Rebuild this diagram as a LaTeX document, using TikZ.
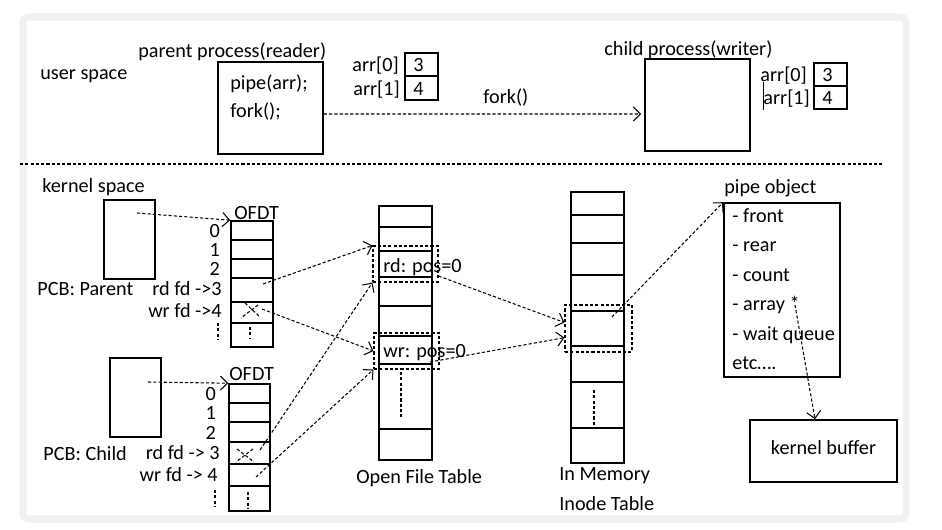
\documentclass[tikz,border=0pt]{standalone}
\usepackage{fontspec}
\setmainfont{Carlito}
\usepackage{tikz}
\usetikzlibrary{positioning,fit,arrows.meta}
\definecolor{frameGray}{RGB}{240,240,240}
\tikzset{
		boxStyle/.style = 	{draw, line width = 0.9pt, inner sep=0pt},
		cellStyle/.style = 	{draw, line width = 0.9pt, inner sep=0pt},
		ringStyle/.style = 	{draw, line width = 0.6pt, inner sep=0pt, dash pattern=on 1.8pt off 1.2pt},
		textStyle/.style = 	{inner sep=0pt, text height=8pt, text depth=0pt, font=\fontsize{11.5}{13}\selectfont},
		dotStyle/.style = 	{line width = 0.6pt, dash pattern=on 1.8pt off 1.2pt},
		linkStyle/.style = 	{dotStyle, -{Straight Barb[length=4pt,width=8pt]}}
}

\begin{document}
\begin{tikzpicture}[x=0.02cm, y=-0.02cm]
  \useasboundingbox (0,0) rectangle (942,530);
  \draw[frameGray, line width=4pt, rounded corners=3pt] (23,17) rectangle (906,519);

  % user space: the two processes
  \node[textStyle, anchor=west] (userLbl) at (40,72) {user space};
  \node[textStyle, anchor=west] (parentLbl) at (138,50) {parent process(reader)};
  \node[boxStyle, fit={(218,62) (323,154)}] (parentBox) {};
  \node[textStyle, anchor=west] (pipeCall) at (230,82) {pipe(arr);};
  \node[textStyle, anchor=west] (forkCall) at (230,110) {fork();};

  \node[textStyle, anchor=west] (childLbl) at (604,48) {child process(writer)};
  \node[boxStyle, fit={(645,59) (750,151)}] (childBox) {};

  % Draw arr cells of both processes
  \foreach \who/\xl/\xr/\yt/\ym/\yb in {P/405/438/53/76/100, C/814/847/63/86/109}
  {
    \node[cellStyle, fit={(\xl,\yt) (\xr,\ym)}] (arr\who0) {};
    \node[cellStyle, fit={(\xl,\ym) (\xr,\yb)}] (arr\who1) {};
    \node[textStyle] (val\who0) at ([xshift=-0.06cm]arr\who0.center) {3};
    \node[textStyle] (val\who1) at ([xshift=-0.06cm]arr\who1.center) {4};
  }
  \node[textStyle, left=0.1cm of arrP0] (arrP0Lbl) {arr[0]};
  \node[textStyle, left=0.08cm of arrP1] (arrP1Lbl) {arr[1]};
  \node[textStyle, left=0.12cm of arrC0] (arrC0Lbl) {arr[0]};
  \node[textStyle, left=0.06cm of arrC1] (arrC1Lbl) {arr[1]};
  \draw[line width=0.4pt] (763,82) -- (763,110);

  \coordinate (forkEnd) at (641,114);
  \draw[linkStyle] ([yshift=-0.12cm]parentBox.east) -- (forkEnd);
  \node[textStyle, anchor=west] (forkLbl) at (483,96) {fork()};

  \draw[dotStyle] (20,164) -- (882,164);

  % kernel space: PCBs and OFDTs
  \node[textStyle, anchor=west] (kernelLbl) at (42,185) {kernel space};
  \node[boxStyle, fit={(104,200) (155,279)}] (pcbP) {};
  \node[boxStyle, fit={(110,358) (161,437)}] (pcbC) {};
  \node[textStyle, anchor=west] (pcbPLbl) at (37,288) {PCB: Parent};
  \node[textStyle, anchor=west] (pcbCLbl) at (43,453) {PCB: Child};

  \foreach \yt/\yb [count=\i from 0] in {221/240, 240/259, 259/278, 278/302, 302/323, 323/347}
    \node[cellStyle, fit={(231,\yt) (273,\yb)}] (ofdtP\i) {};
  \foreach \yt/\yb [count=\i from 0] in {384/403, 403/422, 422/442, 442/464, 464/486, 486/511}
    \node[cellStyle, fit={(229,\yt) (270,\yb)}] (ofdtC\i) {};
  \node[textStyle, anchor=west] (ofdtPLbl) at (234,212) {OFDT};
  \node[textStyle, anchor=west] (ofdtCLbl) at (229,373) {OFDT};

  \foreach \i in {0,1,2}
  {
    \node[textStyle, left=0.2cm of ofdtP\i] (numP\i) {\i};
    \node[textStyle, left=0.24cm of ofdtC\i] (numC\i) {\i};
  }
  \node[textStyle, anchor=east] (rdP) at (222,288) {rd fd ->3};
  \node[textStyle, anchor=east] (wrP) at (222,310) {wr fd ->4};
  \node[textStyle, anchor=east] (rdC) at (220,452) {rd fd -> 3};
  \node[textStyle, anchor=east] (wrC) at (218,474) {wr fd -> 4};

  % dots and crosses in the OFDTs
  \draw[dotStyle] (218,323) -- (218,340) (250,327) -- (250,338);
  \draw[dotStyle] (215,490) -- (215,506) (248,492) -- (248,508);
  \draw[dotStyle] (245,303) -- (260,317) (258,305) -- (241,318);
  \draw[dotStyle] (237,449) -- (254,462) (253,449) -- (236,462);

  % open file table and in memory inode table
  \foreach \yt/\yb [count=\i from 0] in {206/227, 227/251, 251/277, 277/306, 306/336, 336/364, 364/429, 429/460}
    \node[cellStyle, fit={(379,\yt) (432,\yb)}] (oft\i) {};
  \foreach \yt/\yb [count=\i from 0] in {192/215, 215/243, 243/275, 275/311, 311/346, 346/382, 382/428, 428/463}
    \node[cellStyle, fit={(571,\yt) (624,\yb)}] (inode\i) {};
  \draw[dotStyle] (401,372) -- (401,417) (594,390) -- (594,425);

  \node[ringStyle, fit={(373,246) (438,282)}] (rdRing) {};
  \node[ringStyle, fit={(374,333) (439,369)}] (wrRing) {};
  \node[ringStyle, fit={(565,305) (632,352)}] (inodeRing) {};
  \node[textStyle, anchor=west] (rdLbl) at (383,265) {rd: pos=0};
  \node[textStyle, anchor=west] (wrLbl) at (383,350) {wr: pos=0};

  \node[textStyle, anchor=west] (oftLbl) at (356,476) {Open File Table};
  \node[textStyle, anchor=west] (inodeLbl) at (559,473) {In Memory};
  \node[textStyle, anchor=west] (inodeLbl2) at (559,503) {Inode Table};

  % pipe object and kernel buffer
  \node[textStyle, anchor=west] (pipeLbl) at (724,186) {pipe object};
  \node[boxStyle, fit={(724,203) (840,377)}] (pipeBox) {};
  \foreach \txt/\y [count=\i] in {- front/215, - rear/244, - count/274, - array */303, - wait queue/333}
    \node[textStyle, anchor=west] (pipeItem\i) at (732,\y) {\txt};
  \node[textStyle, anchor=west] (pipeEtc) at (732,362) {etc\ldots.};
  \node[boxStyle, fit={(750,420) (897,482)}] (kernelBuf) {};
  \node[textStyle] (kernelBufLbl) at ([yshift=0.08cm]kernelBuf.center) {kernel buffer};

  % Draw links
  \coordinate (pcbPOut) at (137,213);
  \coordinate (pcbCOut) at (148,382);
  \coordinate (rdPOut) at (263,284);
  \coordinate (wrPOut) at (262,309);
  \coordinate (rdCOut) at (260,450);
  \coordinate (wrCOut) at (256,477);
  \coordinate (wrOut) at (430,362);
  \coordinate (inodeOut) at (612,317);
  \coordinate (arrayOut) at (795,305);
  \draw[linkStyle] (pcbPOut) -- (ofdtP0.north west);
  \draw[linkStyle] (pcbCOut) -- (ofdtC0.north west);
  \draw[linkStyle] (rdPOut) -- (rdRing.north west);
  \draw[linkStyle] (wrPOut) -- (wrRing.west);
  \draw[linkStyle] (rdCOut) -- (rdRing.south west);
  \draw[linkStyle] (wrCOut) -- (wrRing.south west);
  \draw[linkStyle] (rdRing.340) -- (inodeRing.170);
  \draw[linkStyle] (wrOut) -- (inodeRing.195);
  \draw[linkStyle] (inodeOut) -- (pipeBox.north west);
  \draw[linkStyle] (arrayOut) -- ([xshift=-0.17cm]kernelBuf.north);

\end{tikzpicture}
\end{document}
